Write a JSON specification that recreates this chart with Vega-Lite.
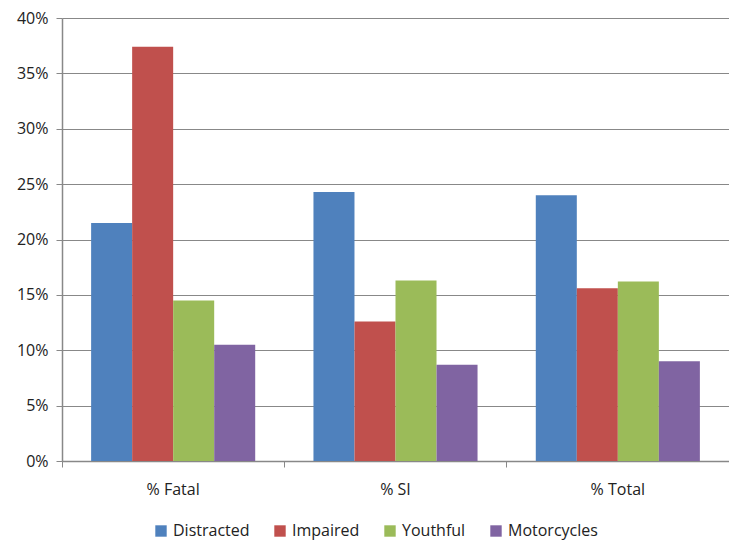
{
  "$schema": "https://vega.github.io/schema/vega-lite/v6.json",
  "width": 667,
  "height": 443,
  "autosize": {"type": "none"},
  "padding": {"left": 62, "top": 18, "right": 0, "bottom": 79},
  "background": "white",
  "data": {
    "values": [
      {"category": "% Fatal", "series": "Distracted", "value": 0.215},
      {"category": "% Fatal", "series": "Impaired", "value": 0.374},
      {"category": "% Fatal", "series": "Youthful", "value": 0.145},
      {"category": "% Fatal", "series": "Motorcycles", "value": 0.105},
      {"category": "% SI", "series": "Distracted", "value": 0.243},
      {"category": "% SI", "series": "Impaired", "value": 0.126},
      {"category": "% SI", "series": "Youthful", "value": 0.163},
      {"category": "% SI", "series": "Motorcycles", "value": 0.087},
      {"category": "% Total", "series": "Distracted", "value": 0.240},
      {"category": "% Total", "series": "Impaired", "value": 0.156},
      {"category": "% Total", "series": "Youthful", "value": 0.162},
      {"category": "% Total", "series": "Motorcycles", "value": 0.090}
    ]
  },
  "config": {
    "font": "Open Sans",
    "view": {"stroke": null},
    "axis": {"labelFont": "Open Sans", "labelColor": "#222", "domainColor": "#888", "tickColor": "#888", "gridColor": "#888"}
  },
  "mark": {"type": "bar"},
  "encoding": {
    "x": {
      "field": "category", "type": "nominal", "sort": null,
      "scale": {"paddingInner": 0, "paddingOuter": 0},
      "axis": {"title": null, "labelAngle": 0, "labelFontSize": 16, "labelPadding": 14, "bandPosition": 0, "tickSize": 6, "domainWidth": 1.5, "grid": false}
    },
    "xOffset": {"field": "series", "type": "nominal", "sort": ["Distracted", "Impaired", "Youthful", "Motorcycles"], "scale": {"paddingInner": 0, "paddingOuter": 0.71}},
    "y": {
      "field": "value", "type": "quantitative",
      "scale": {"domain": [0, 0.4], "nice": false},
      "axis": {"title": null, "format": ".0%", "values": [0, 0.05, 0.1, 0.15, 0.2, 0.25, 0.3, 0.35, 0.4], "labelFontSize": 16, "labelPadding": 8, "tickSize": 6, "domainWidth": 1.5, "grid": true, "gridWidth": 1}
    },
    "color": {
      "field": "series", "type": "nominal",
      "sort": ["Distracted", "Impaired", "Youthful", "Motorcycles"],
      "scale": {"domain": ["Distracted", "Impaired", "Youthful", "Motorcycles"], "range": ["#4F81BD", "#C0504D", "#9BBB59", "#8064A2"]},
      "legend": {"title": null, "orient": "none", "direction": "horizontal", "legendX": 91, "legendY": 505, "symbolType": "square", "symbolSize": 130, "symbolStrokeWidth": 0, "labelFontSize": 16, "labelColor": "#222", "labelFont": "Open Sans", "columnPadding": 22, "symbolOpacity": 1}
    }
  }
}
